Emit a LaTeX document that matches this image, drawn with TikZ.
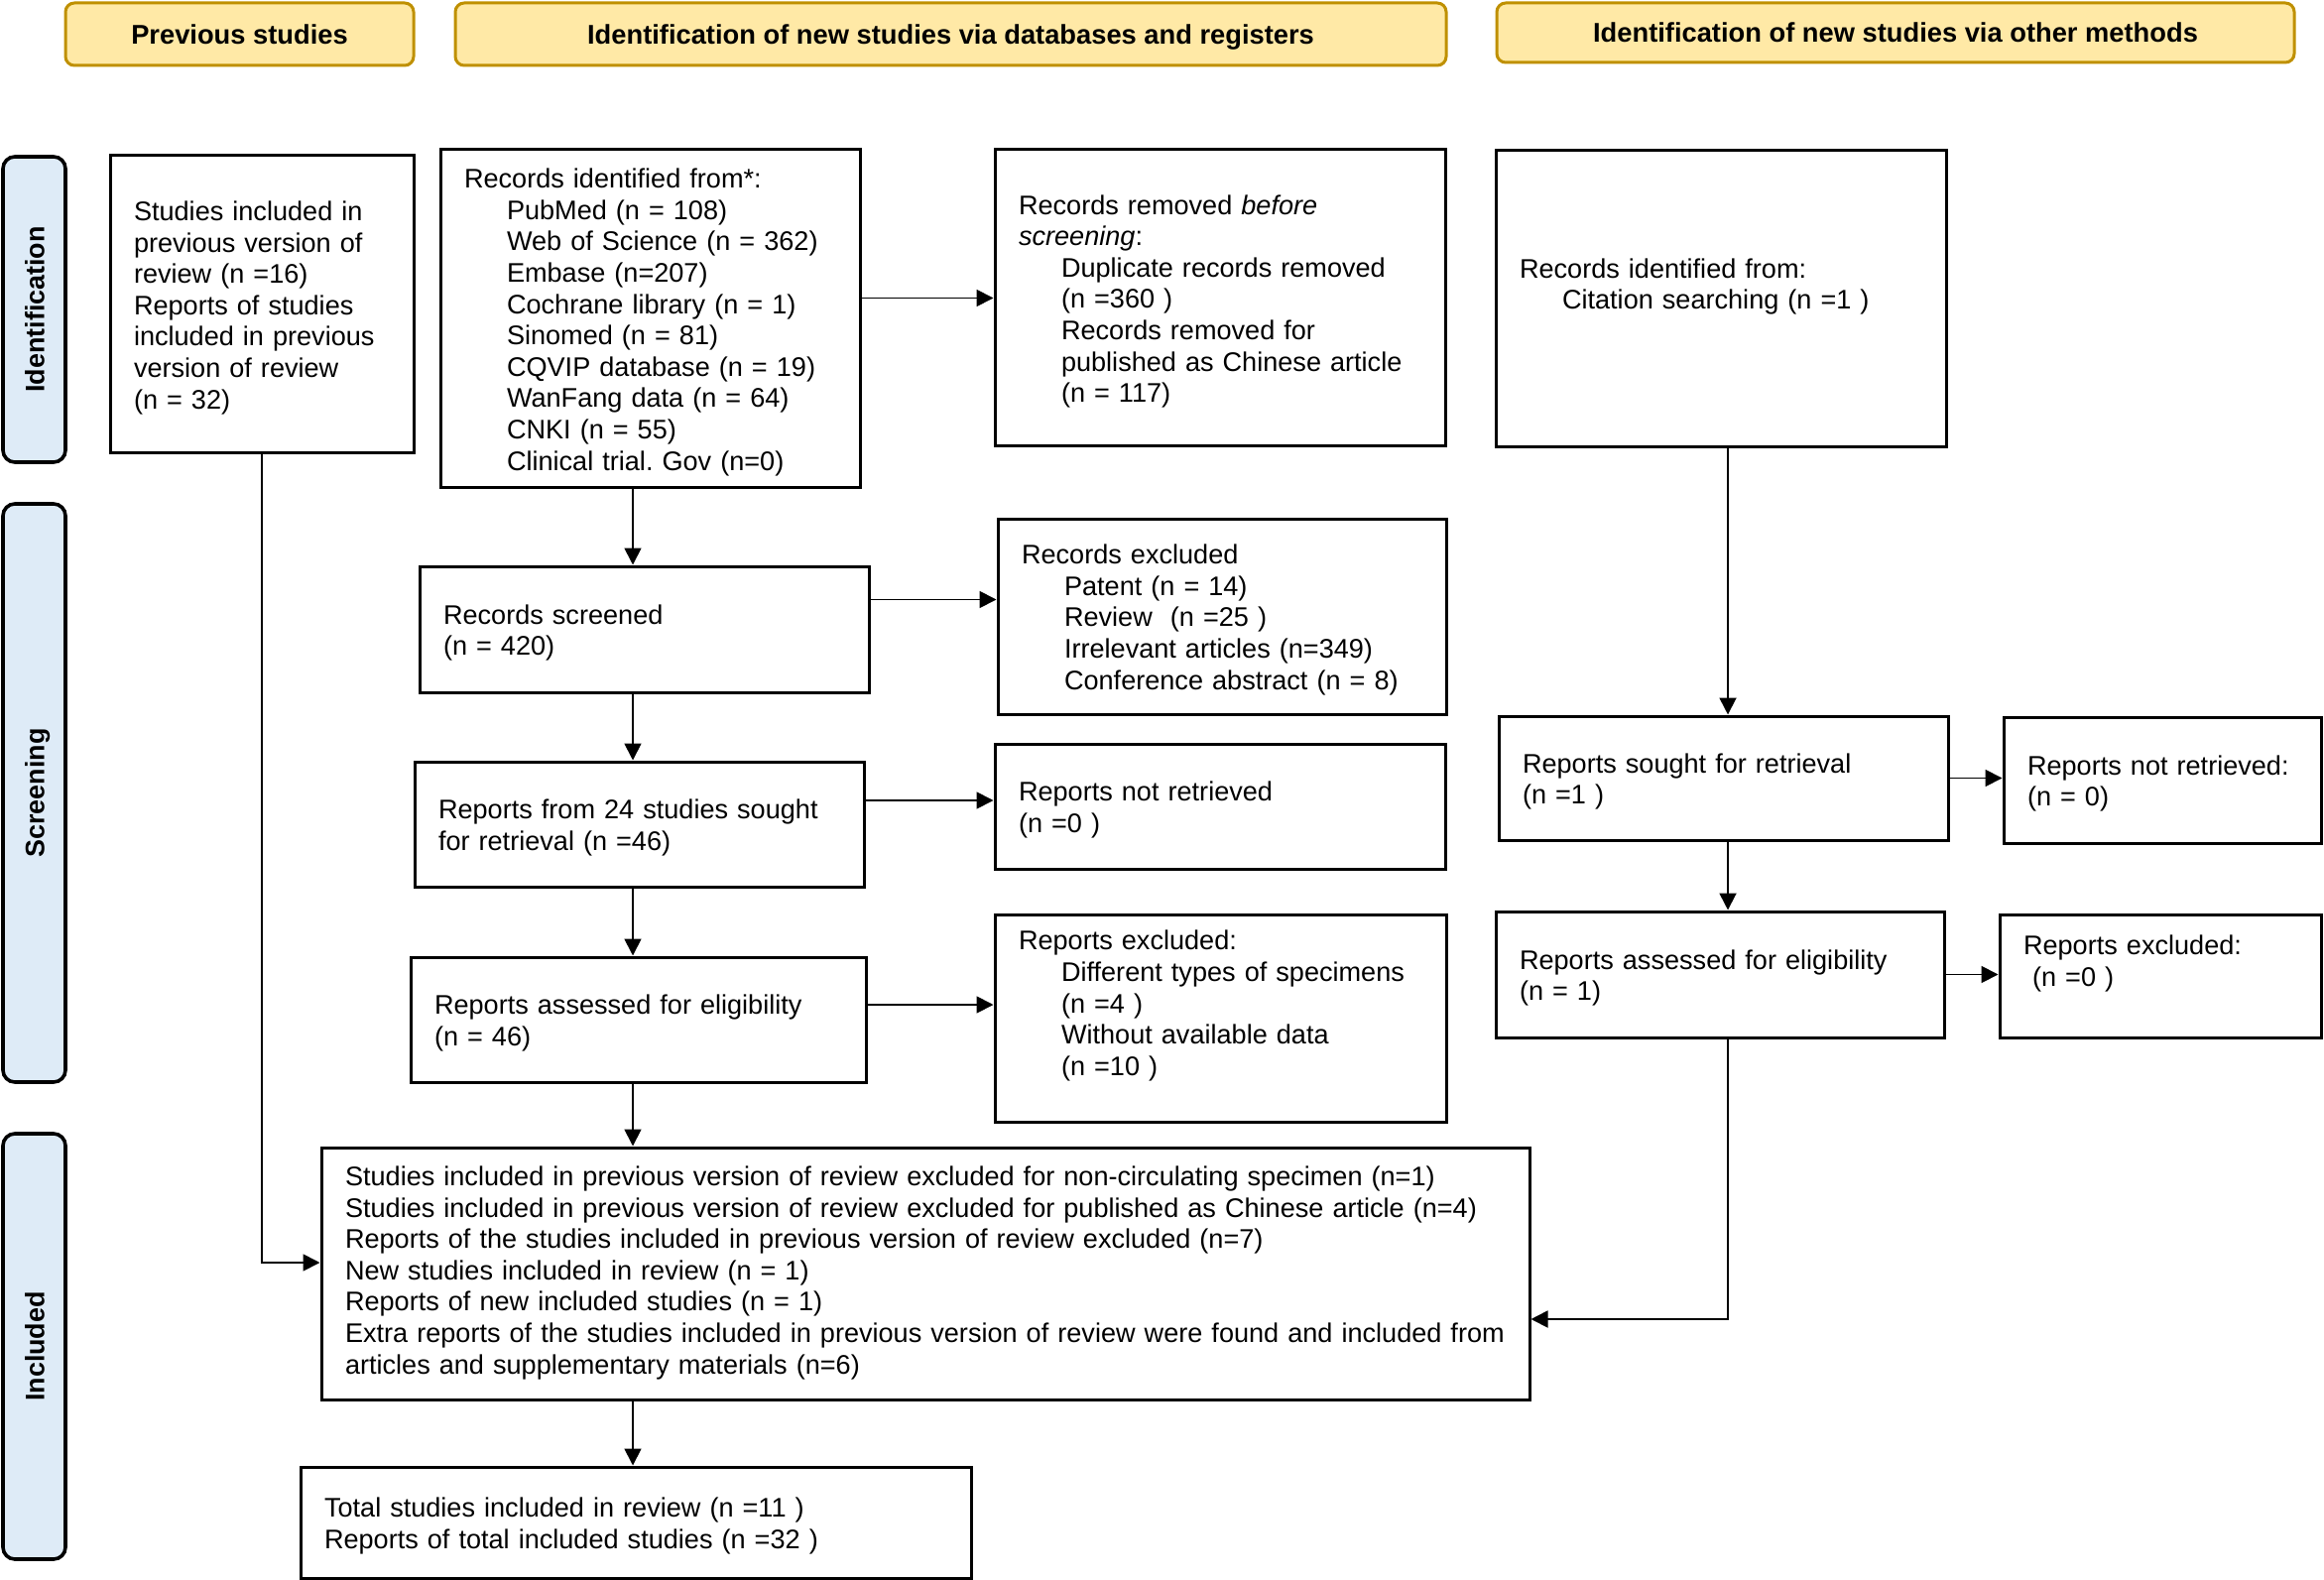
\documentclass[tikz,border=0pt]{standalone}
\usepackage{fontspec}
\setmainfont{Liberation Sans}
\usetikzlibrary{arrows.meta}
\frenchspacing
\definecolor{hdrfill}{HTML}{FFE9A6}
\definecolor{hdrline}{HTML}{BF9000}
\definecolor{sidefill}{HTML}{DEEBF7}
\newcommand\ind{\hspace*{21.5pt}}
\newcommand\pbox[7][-2pt]{%
  \pgfmathsetlengthmacro\pbw{(#5-#3)*0.5pt}%
  \pgfmathsetlengthmacro\pbh{(#6-#4)*0.5pt}%
  \pgfmathsetlengthmacro\pbt{(#5-#3)*0.5pt-24pt}%
  \node[stepbox, minimum width=\pbw, minimum height=\pbh, text width=\pbt] (#2) at ({(#3+#5)/2},{(#4+#6)/2}) {\raisebox{#1}[\height][\depth]{\begin{tabular}{@{}l@{}}#7\end{tabular}}};}
\tikzset{
  stepbox/.style={draw, line width=1.5pt, inner xsep=12pt, inner ysep=0pt, align=left, font=\fontsize{13.55}{15.8}\selectfont},
  hdr/.style={draw=hdrline, fill=hdrfill, line width=1.5pt, rounded corners=4.5pt, inner sep=0pt, text height=10pt, text depth=0pt, font=\bfseries\fontsize{13.65}{15.8}\selectfont},
  side/.style={draw, fill=sidefill, line width=1.8pt, rounded corners=6pt, inner sep=0pt, rotate=90, text height=10pt, text depth=0pt, font=\bfseries\fontsize{13.45}{15.8}\selectfont},
  arr/.style={-{Triangle[length=8.5pt,width=8.5pt]}, line width=0.9pt}
}
\begin{document}
\begin{tikzpicture}[x=0.5pt,y=-0.5pt]
\useasboundingbox (0,0) rectangle (2343,1593);
% headers
\node[hdr, minimum width=175.5pt, minimum height=31.5pt] (h1) at (241.5,34.5) {Previous studies};
\node[hdr, minimum width=499.5pt, minimum height=31.5pt] (h2) at (958.5,34.5) {Identification of new studies via databases and registers};
\node[hdr, minimum width=402pt, minimum height=30pt] (h3) at (1911,33) {Identification of new studies via other methods};
% side labels
\node[side, minimum width=154pt, minimum height=31.5pt] (s1) at (34.5,312) {Identification};
\node[side, minimum width=291.5pt, minimum height=31.5pt] (s2) at (34.5,799.5) {Screening};
\node[side, minimum width=214.5pt, minimum height=31.5pt] (s3) at (34.5,1357.5) {Included};
% boxes
\pbox{prev}{111}{157}{417}{457}{Studies included in\\previous version of\\review (n =16)\\Reports of studies\\included in previous\\version of review\\(n = 32)}
\pbox{recid}{444}{151}{867}{492}{Records identified from*:\\\ind PubMed (n = 108)\\\ind Web of Science (n = 362)\\\ind Embase (n=207)\\\ind Cochrane library (n = 1)\\\ind Sinomed (n = 81)\\\ind CQVIP database (n = 19)\\\ind WanFang data (n = 64)\\\ind CNKI (n = 55)\\\ind Clinical trial. Gov (n=0)}
\pbox{removed}{1003}{151}{1457}{450}{Records removed \textit{before}\\\textit{screening}:\\\ind Duplicate records removed\\\ind (n =360 )\\\ind Records removed for\\\ind published as Chinese article\\\ind (n = 117)}
\pbox{other}{1508}{152}{1962}{451}{Records identified from:\\\ind Citation searching (n =1 )\\ \mbox{}}
\pbox{screened}{423}{571}{876}{698}{Records screened\\(n = 420)}
\pbox{excluded}{1006}{523}{1458}{720}{Records excluded\\\ind Patent (n = 14)\\\ind Review\ \ (n =25 )\\\ind Irrelevant articles (n=349)\\\ind Conference abstract (n = 8)}
\pbox{sought}{418}{768}{871}{894}{Reports from 24 studies sought\\for retrieval (n =46)}
\pbox{notret}{1003}{750}{1457}{876}{Reports not retrieved\\(n =0 )}
\pbox{assessed}{414}{965}{873}{1091}{Reports assessed for eligibility\\(n = 46)}
\pbox{repexcl}{1003}{922}{1458}{1131}{Reports excluded:\\\ind Different types of specimens\\\ind (n =4 )\\\ind Without available data\\\ind (n =10 )\\ \mbox{}}
\pbox{sought2}{1511}{722}{1964}{847}{Reports sought for retrieval\\(n =1 )}
\pbox{notret2}{2020}{723}{2340}{850}{Reports not retrieved:\\(n = 0)}
\pbox{assessed2}{1508}{919}{1960}{1046}{Reports assessed for eligibility\\(n = 1)}
\pbox{repexcl2}{2016}{922}{2340}{1046}{Reports excluded:\\\ (n =0 )\\ \mbox{}}
\pbox[0pt]{included}{324}{1157}{1542}{1411}{Studies included in previous version of review excluded for non-circulating specimen (n=1)\\Studies included in previous version of review excluded for published as Chinese article (n=4)\\Reports of the studies included in previous version of review excluded (n=7)\\New studies included in review (n = 1)\\Reports of new included studies (n = 1)\\Extra reports of the studies included in previous version of review were found and included from\\articles and supplementary materials (n=6)}
\pbox{total}{303}{1479}{979}{1591}{Total studies included in review (n =11 )\\Reports of total included studies (n =32 )}
% spines
\coordinate (spine) at (638,0);
\coordinate (spine2) at (1742,0);
% connectors
\draw[arr] (recid.south -| spine) -- (screened.north -| spine);
\draw[arr] (screened.south -| spine) -- (sought.north -| spine);
\draw[arr] (sought.south -| spine) -- (assessed.north -| spine);
\draw[arr] (assessed.south -| spine) -- (included.north -| spine);
\draw[arr] (included.south -| spine) -- (total.north -| spine);
\draw[arr] (recid.east |- removed.west) -- (removed.west);
\draw[arr] ([yshift=15pt]screened.east) -- ([yshift=15pt]screened.east -| excluded.west);
\draw[arr] ([yshift=12pt]sought.east) -- ([yshift=12pt]sought.east -| notret.west);
\draw[arr] ([yshift=7.5pt]assessed.east) -- ([yshift=7.5pt]assessed.east -| repexcl.west);
\draw[arr] (prev.south) |- ([yshift=5.5pt]included.west);
\draw[arr] (other.south -| spine2) -- (sought2.north -| spine2);
\draw[arr] (sought2.south -| spine2) -- (assessed2.north -| spine2);
\draw[arr] (sought2.east) -- (sought2.east -| notret2.west);
\draw[arr] (assessed2.east) -- (assessed2.east -| repexcl2.west);
\draw[arr] (assessed2.south -| spine2) |- ([yshift=-23pt]included.east);
\end{tikzpicture}
\end{document}
